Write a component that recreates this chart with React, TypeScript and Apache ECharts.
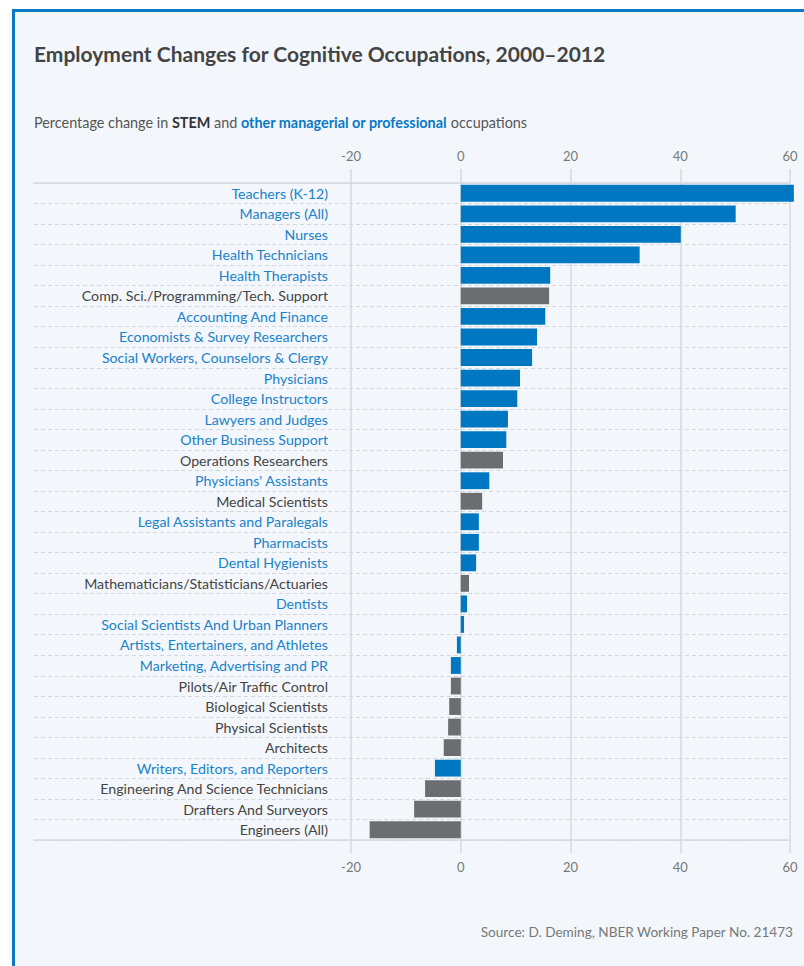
import React, { useEffect, useRef } from "react";
import * as echarts from "echarts";

const categories = [
  "Teachers (K-12)",
  "Managers (All)",
  "Nurses",
  "Health Technicians",
  "Health Therapists",
  "Comp. Sci./Programming/Tech. Support",
  "Accounting And Finance",
  "Economists & Survey Researchers",
  "Social Workers, Counselors & Clergy",
  "Physicians",
  "College Instructors",
  "Lawyers and Judges",
  "Other Business Support",
  "Operations Researchers",
  "Physicians' Assistants",
  "Medical Scientists",
  "Legal Assistants and Paralegals",
  "Pharmacists",
  "Dental Hygienists",
  "Mathematicians/Statisticians/Actuaries",
  "Dentists",
  "Social Scientists And Urban Planners",
  "Artists, Entertainers, and Athletes",
  "Marketing, Advertising and PR",
  "Pilots/Air Traffic Control",
  "Biological Scientists",
  "Physical Scientists",
  "Architects",
  "Writers, Editors, and Reporters",
  "Engineering And Science Technicians",
  "Drafters And Surveyors",
  "Engineers (All)",
];

const values = [
  60.7, 50.1, 40.1, 32.6, 16.3, 16.1, 15.4, 13.9, 13.0, 10.8, 10.3, 8.6, 8.3,
  7.7, 5.2, 3.9, 3.3, 3.3, 2.8, 1.5, 1.15, 0.6, -0.7, -1.8, -1.8, -2.1, -2.3,
  -3.1, -4.7, -6.5, -8.5, -16.6,
];

// "stem" or "prof" (other managerial or professional)
const groups = [
  "prof", "prof", "prof", "prof", "prof", "stem", "prof", "prof", "prof",
  "prof", "prof", "prof", "prof", "stem", "prof", "stem", "prof", "prof",
  "prof", "stem", "prof", "prof", "prof", "prof", "stem", "stem", "stem",
  "stem", "prof", "stem", "stem", "stem",
];

const tickMin = -20;
const tickMax = 60;
const tickStep = 20;

const BLUE = "#0077c0";
const GRAY = "#6c6d71";
const LABEL_BLUE = "#1a82c9";
const LABEL_GRAY = "#444444";
const GRID = "#d6d9dd";
const FONT = "Lato, 'Open Sans', sans-serif";

export default function App() {
  const ref = useRef<HTMLDivElement>(null);

  useEffect(() => {
    if (!ref.current) return;
    const chart = echarts.init(ref.current, undefined, { renderer: "svg" });
    const valueAxisBase = {
      type: "value",
      gridIndex: 0,
      min: tickMin,
      max: tickMax,
      interval: tickStep,
      axisLine: { show: false },
      axisTick: { show: true, length: 14, lineStyle: { color: GRID, width: 1.5 } },
      axisLabel: { color: "#777", fontSize: 13, fontFamily: FONT, margin: 21 },
    };
    chart.setOption({
      animation: false,
      textStyle: { fontFamily: FONT },
      grid: [
        { left: 351, right: 14, top: 183, height: 657 },
        { left: 34, right: 14, top: 183, height: 657 },
      ],
      xAxis: [
        {
          ...valueAxisBase,
          position: "top",
          splitLine: { show: true, lineStyle: { color: GRID, width: 1.5 } },
        },
        {
          ...valueAxisBase,
          position: "bottom",
          axisTick: { show: true, length: 13, lineStyle: { color: GRID, width: 1.5 } },
          axisLabel: { color: "#777", fontSize: 13, fontFamily: FONT, margin: 20 },
          splitLine: { show: false },
        },
        {
          type: "value",
          gridIndex: 1,
          position: "top",
          min: 0,
          max: 1,
          axisLine: { show: true, onZero: false, lineStyle: { color: GRID, width: 1.5 } },
          axisTick: { show: false },
          axisLabel: { show: false },
          splitLine: { show: false },
        },
        {
          type: "value",
          gridIndex: 1,
          position: "bottom",
          min: 0,
          max: 1,
          axisLine: { show: true, onZero: false, lineStyle: { color: GRID, width: 1.5 } },
          axisTick: { show: false },
          axisLabel: { show: false },
          splitLine: { show: false },
        },
      ],
      yAxis: [
        {
          type: "category",
          gridIndex: 0,
          data: categories,
          inverse: true,
          axisLine: { show: false },
          axisTick: { show: false },
          splitLine: { show: false },
          axisLabel: {
            margin: 23,
            fontSize: 14.2,
            fontFamily: FONT,
            color: (_v: any, i: number) =>
              groups[i] === "stem" ? LABEL_GRAY : LABEL_BLUE,
          },
        },
        {
          type: "category",
          gridIndex: 1,
          data: categories,
          inverse: true,
          axisLine: { show: false },
          axisTick: { show: false },
          axisLabel: { show: false },
          splitLine: {
            show: true,
            lineStyle: { color: "#d3d6da", width: 1, type: [4, 3] },
          },
        },
      ],
      series: [
        {
          type: "bar",
          xAxisIndex: 0,
          yAxisIndex: 0,
          barCategoryGap: "18%",
          clip: false,
          data: values.map((v, i) => ({
            value: v,
            itemStyle: { color: groups[i] === "stem" ? GRAY : BLUE },
          })),
          z: 3,
        },
      ],
      graphic: [
        {
          type: "text",
          x: 34,
          y: 53,
          style: {
            text: "Employment Changes for Cognitive Occupations, 2000–2012",
            fontSize: 21,
            fontWeight: "bold",
            fontFamily: FONT,
            fill: "#444",
            verticalAlign: "middle",
          },
        },
        {
          type: "text",
          x: 34,
          y: 122,
          style: {
            text:
              "Percentage change in {s|STEM} and {p|other managerial or professional} occupations",
            fontSize: 14.4,
            fontFamily: FONT,
            fill: "#555",
            verticalAlign: "middle",
            rich: {
              s: { fontSize: 14.4, fontWeight: "bold", fontFamily: FONT, fill: "#333", color: "#333" },
              p: { fontSize: 14.4, fontWeight: "bold", fontFamily: FONT, fill: "#0a79c4", color: "#0a79c4" },
            },
          },
        },
        {
          type: "text",
          x: 793,
          y: 932,
          style: {
            text: "Source: D. Deming, NBER Working Paper No. 21473",
            fontSize: 13.6,
            fontFamily: FONT,
            fill: "#777",
            align: "right",
            verticalAlign: "middle",
          },
        },
      ],
    });
    return () => chart.dispose();
  }, []);

  return (
    <div style={{ position: "absolute", left: 0, top: 0, width: 804, height: 966, background: "#fff", overflow: "hidden" }}>
      <div
        style={{
          position: "absolute",
          left: 12,
          top: 9,
          width: 800,
          height: 960,
          background: "#f3f7fb",
          borderTop: "3px solid #0b7bc6",
          borderLeft: "3px solid #0b7bc6",
        }}
      />
      <div ref={ref} style={{ position: "absolute", left: 0, top: 0, width: 804, height: 966 }} />
    </div>
  );
}
